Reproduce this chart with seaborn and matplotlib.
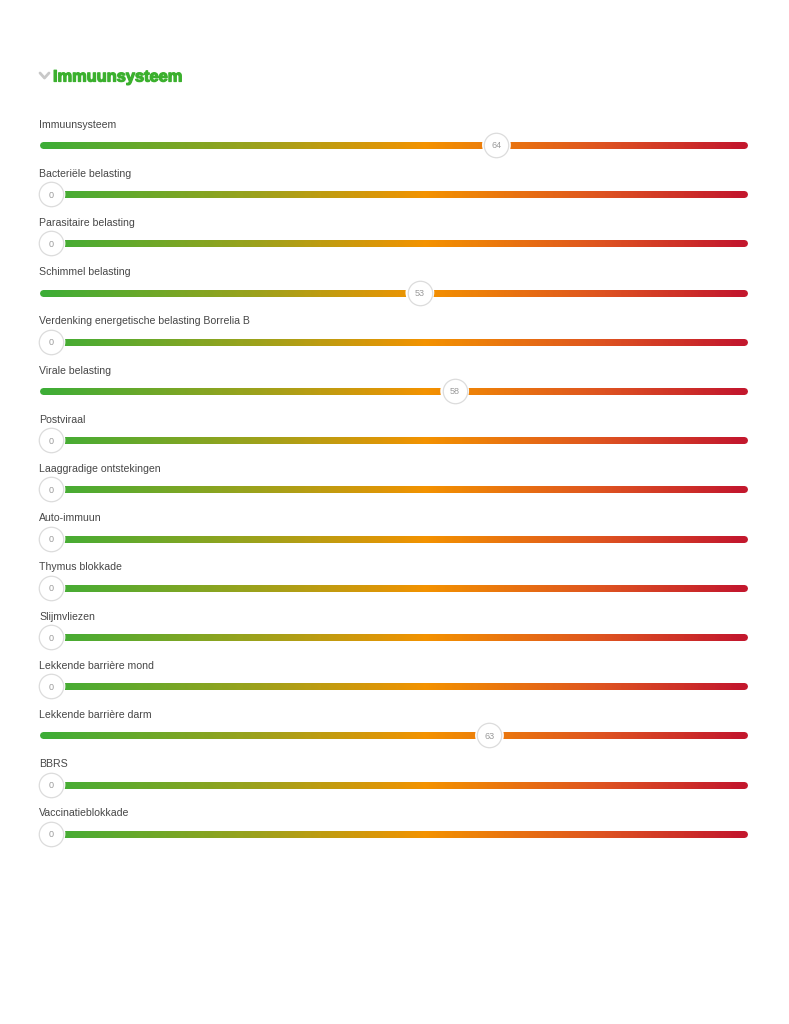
import numpy as np
import matplotlib
matplotlib.use("Agg")
import matplotlib.pyplot as plt
import matplotlib.patheffects as pe
from matplotlib.collections import LineCollection
from matplotlib.colors import LinearSegmentedColormap
from matplotlib.lines import Line2D
import seaborn as sns

# chart data
title = 'Immuunsysteem'
labels = [
    'Immuunsysteem', 'Bacteriële belasting', 'Parasitaire belasting', 'Schimmel belasting',
    'Verdenking energetische belasting Borrelia B', 'Virale belasting', 'Postviraal',
    'Laaggradige ontstekingen', 'Auto-immuun', 'Thymus blokkade', 'Slijmvliezen',
    'Lekkende barrière mond', 'Lekkende barrière darm', 'BBRS', 'Vaccinatieblokkade',
]
scores = [64, 0, 0, 53, 0, 58, 0, 0, 0, 0, 0, 0, 63, 0, 0]
scale_min, scale_max = 0, 100

sns.set_theme(style='white')
plt.rcParams['font.family'] = ['Liberation Sans', 'DejaVu Sans']

W, H = 789, 1024
fig = plt.figure(figsize=(W / 100, H / 100), dpi=100)

# axes laid out in pixels: x 0..100 -> 51..747, rows 49.2 px apart starting at y=145
row_h = 49.2
n = len(labels)
left_px, right_px = 51, 747
top_px = 145 - 0.5 * row_h
bot_px = 145 + (n - 0.5) * row_h
ax = fig.add_axes([left_px / W, 1 - bot_px / H, (right_px - left_px) / W, (bot_px - top_px) / H])
ax.set_xlim(scale_min, scale_max)
ax.set_ylim(n - 0.5, -0.5)
ax.axis('off')

px = (scale_max - scale_min) / (right_px - left_px)  # data units per pixel
cmap = LinearSegmentedColormap.from_list(
    'score', [(0, '#3dad36'), (0.3, '#9aa21c'), (0.55, '#f39200'), (0.8, '#de5420'), (1, '#c3182d')])

bar_start = scale_min - 12 * px + 3.5 * px
bar_end = scale_max - 3.5 * px
xs = np.linspace(bar_start, bar_end, 300)
for i in range(n):
    pts = np.column_stack([xs, np.full_like(xs, i)])
    segs = np.stack([pts[:-1], pts[1:]], axis=1)
    lc = LineCollection(segs, colors=cmap(np.linspace(0, 1, len(segs))),
                        linewidths=7 * 0.72, capstyle='round', clip_on=False)
    ax.add_collection(lc)
    ax.annotate(labels[i], xy=(bar_start - 3.5 * px, i), xytext=(0, 17.5 * 0.72),
                textcoords='offset points', ha='left', va='baseline',
                fontsize=7.6, color='#474747', annotation_clip=False)

rows = list(range(n))
sns.scatterplot(x=scores, y=rows, ax=ax, s=430, color='white', edgecolor='none',
                linewidth=0, zorder=3, clip_on=False, legend=False)
sns.scatterplot(x=scores, y=rows, ax=ax, s=310, color='white', edgecolor='#dcdcdc',
                linewidth=0.9, zorder=4, clip_on=False, legend=False)
for i, v in enumerate(scores):
    ax.text(v, i, str(v), ha='center', va='center_baseline', fontsize=6.5,
            color='#9a9a9a', zorder=5)

# header: chevron + section title
chev = Line2D([40 / W, 44.5 / W, 49 / W], [1 - 73 / H, 1 - 78 / H, 1 - 73 / H],
              transform=fig.transFigure, color='#c8c8c8', linewidth=2,
              solid_capstyle='round', solid_joinstyle='round')
fig.add_artist(chev)
fig.text(53 / W, 1 - 77 / H, title, fontsize=11.8, fontweight='bold', color='#3bb02e',
         ha='left', va='center',
         path_effects=[pe.withStroke(linewidth=0.9, foreground='#3bb02e')])

fig.savefig('out.png', dpi=100, facecolor='white')
